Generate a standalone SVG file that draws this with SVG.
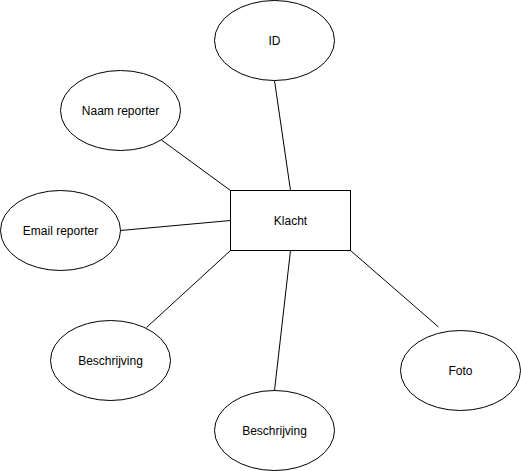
<svg xmlns="http://www.w3.org/2000/svg" width="521" height="471" viewBox="0 0 521 471">
<style>
.n{fill:#fff;stroke:#000;stroke-width:1}
.e{stroke:#000;stroke-width:1;fill:none}
text{font-family:"Liberation Sans",Arial,sans-serif;font-size:12px;fill:#000;text-anchor:middle;dominant-baseline:central}
</style>
<rect width="521" height="471" fill="#fff"/>
<g id="connectors">
<line class="e" x1="274.5" y1="80.5" x2="290.5" y2="190.5"/>
<line class="e" x1="161.5" y1="140" x2="230.5" y2="190.5"/>
<line class="e" x1="120.5" y1="230.5" x2="230.5" y2="220.5"/>
<line class="e" x1="146.5" y1="327.5" x2="230.5" y2="250.5"/>
<line class="e" x1="274.5" y1="390.5" x2="290.5" y2="250.5"/>
<line class="e" x1="438.5" y1="327" x2="350.5" y2="250.5"/>
</g>
<g id="klacht"><rect class="n" x="230.5" y="190.5" width="120" height="60"/><text x="290.5" y="220.5">Klacht</text></g>
<g id="id"><ellipse class="n" cx="274.5" cy="40.5" rx="60" ry="40"/><text x="274.5" y="40.5">ID</text></g>
<g id="naam"><ellipse class="n" cx="120.5" cy="110.5" rx="60" ry="40"/><text x="120.5" y="110.5">Naam reporter</text></g>
<g id="email"><ellipse class="n" cx="60.5" cy="230.5" rx="60" ry="40"/><text x="60.5" y="230.5">Email reporter</text></g>
<g id="beschrijving1"><ellipse class="n" cx="110.5" cy="360.5" rx="60" ry="40"/><text x="110.5" y="360.5">Beschrijving</text></g>
<g id="beschrijving2"><ellipse class="n" cx="274.5" cy="430.5" rx="60" ry="40"/><text x="274.5" y="430.5">Beschrijving</text></g>
<g id="foto"><ellipse class="n" cx="460.5" cy="370.5" rx="60" ry="40"/><text x="460.5" y="370.5">Foto</text></g>
</svg>
